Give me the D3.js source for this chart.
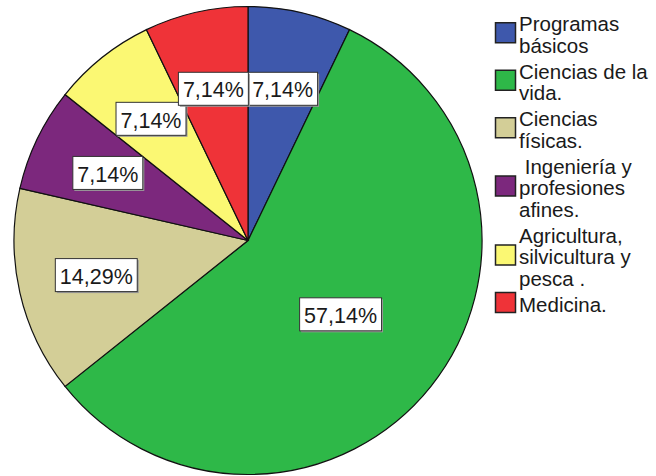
<!DOCTYPE html>
<html>
<head>
<meta charset="utf-8">
<script src="https://cdn.jsdelivr.net/npm/d3@7"></script>
<style>
  body { margin: 0; background: #fff; }
  svg { display: block; font-family: "Liberation Sans", Arial, sans-serif; }
</style>
</head>
<body>
<svg id="chart" width="656" height="476"></svg>
<script>
// chart data (percent of cases per area)
const categories = ["Programas básicos", "Ciencias de la vida.", "Ciencias físicas.",
  "Ingeniería y profesiones afines.", "Agricultura, silvicultura y pesca .", "Medicina."];
const values = [7.14, 57.14, 14.29, 7.14, 7.14, 7.14];
// legend text as it wraps in the picture
const legendLines = [
  ["Programas", "básicos"],
  ["Ciencias de la", "vida."],
  ["Ciencias", "físicas."],
  [" Ingeniería y", "profesiones", "afines."],
  ["Agricultura,", "silvicultura y", "pesca ."],
  ["Medicina."]
];
const colors = ["#3e58ac", "#2eb848", "#d3ce97", "#7c287d", "#fbf873", "#ef3338"];

const svg = d3.select("#chart");
const cx = 248, cy = 240.5, radius = 234;

const color = d3.scaleOrdinal().domain(categories).range(colors);

const pie = d3.pie().sort(null).value(d => d.value);
const slices = pie(categories.map((c, i) => ({ name: c, value: values[i] })));

const arc = d3.arc().innerRadius(0).outerRadius(radius);

const g = svg.append("g").attr("transform", `translate(${cx},${cy})`);

g.selectAll("path.slice")
  .data(slices)
  .enter()
  .append("path")
  .attr("class", "slice")
  .attr("d", arc)
  .attr("fill", d => color(d.data.name))
  .attr("stroke", "#111")
  .attr("stroke-width", 1.2);

// percent labels in white boxes
const labelSize = 21.5;
const fmt = v => v.toFixed(2).replace(".", ",") + "%";
const labelArc = d => {
  const k = d.data.value > 50 ? 0.506 : 0.665;
  return d3.arc().innerRadius(radius * k).outerRadius(radius * k).centroid(d);
};

const labels = g.selectAll("g.lbl")
  .data(slices)
  .enter()
  .append("g")
  .attr("class", "lbl")
  .attr("transform", d => { const p = labelArc(d); return `translate(${p[0]},${p[1]})`; });

labels.each(function(d) {
  const sel = d3.select(this);
  const t = sel.append("text")
    .attr("text-anchor", "middle")
    .attr("y", labelSize * 0.716 / 2 + 1)
    .attr("font-size", labelSize)
    .attr("fill", "#1a1a1a")
    .text(fmt(d.data.value));
  const w = t.node().getComputedTextLength() + 9;
  const h = 33;
  sel.insert("rect", "text")
    .attr("x", -w / 2 + 1.5).attr("y", -h / 2 + 1.5)
    .attr("width", w).attr("height", h)
    .attr("fill", "#999");
  sel.insert("rect", "text")
    .attr("x", -w / 2).attr("y", -h / 2)
    .attr("width", w).attr("height", h)
    .attr("fill", "#fff")
    .attr("stroke", "#333")
    .attr("stroke-width", 1);
});

// legend
const legendSize = 20.5, lineH = 21.5, itemGap = 4.5;
const legend = svg.append("g");
let base = 31;
legendLines.forEach((lines, i) => {
  const first = base, last = base + (lines.length - 1) * lineH;
  const sy = (first + last) / 2 - 9;
  legend.append("rect")
    .attr("x", 495.5).attr("y", sy - 10)
    .attr("width", 20).attr("height", 20)
    .attr("fill", color(categories[i]))
    .attr("stroke", "#222")
    .attr("stroke-width", 1.5);
  const t = legend.append("text")
    .attr("x", 519)
    .attr("font-size", legendSize)
    .attr("fill", "#1a1a1a")
    .style("white-space", "pre");
  lines.forEach((s, j) => {
    t.append("tspan").attr("x", 519).attr("y", first + j * lineH).text(s);
  });
  base = last + lineH + itemGap;
});
</script>
</body>
</html>
